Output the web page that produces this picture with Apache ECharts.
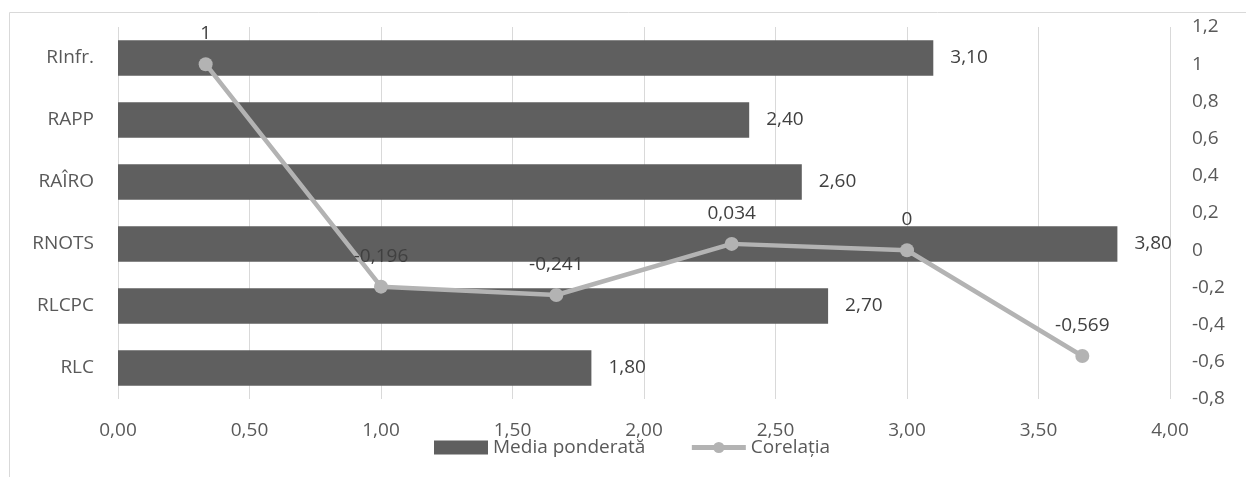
<!DOCTYPE html>
<html>
<head>
<meta charset="utf-8">
<script src="https://cdn.jsdelivr.net/npm/echarts@6/dist/echarts.min.js"></script>
<style>
  html, body { margin: 0; padding: 0; background: #fff; }
  #chart { width: 1246px; height: 477px; }
</style>
</head>
<body>
<div id="chart"></div>
<script>
// categories, bottom to top on the bar axis
var categories = ['RLC', 'RLCPC', 'RNOTS', 'RAÎRO', 'RAPP', 'RInfr.'];
var mediaPonderata = [1.80, 2.70, 3.80, 2.60, 2.40, 3.10];

// line series, left to right
var lineCategories = ['RInfr.', 'RAPP', 'RAÎRO', 'RNOTS', 'RLCPC', 'RLC'];
var corelatia = [1, -0.196, -0.241, 0.034, 0, -0.569];

var FONT = 'Open Sans';
var TXT = '#595959';

function comma(v) {
    return String(v).replace('.', ',');
}

(function () {
    var chart = echarts.init(document.getElementById('chart'));
    var option = {
        animation: false,
        textStyle: { fontFamily: FONT },
        grid: { left: 118, right: 76, top: 27, bottom: 78, containLabel: false },
        graphic: [{
            type: 'rect',
            shape: { x: 9.5, y: 12.5, width: 1260, height: 500 },
            style: { fill: 'none', stroke: '#d9d9d9', lineWidth: 1 },
            silent: true
        }],
        legend: {
            left: 429,
            top: 433,
            itemWidth: 54,
            itemHeight: 14,
            itemGap: 44,
            textStyle: { color: TXT, fontSize: 19, fontFamily: FONT },
            data: [
                { name: 'Media ponderată', icon: 'rect' },
                { name: 'Corelația', lineStyle: { width: 5 } }
            ]
        },
        xAxis: [{
            type: 'value',
            min: 0,
            max: 4,
            interval: 0.5,
            axisLine: { show: false },
            axisTick: { show: false },
            splitLine: { lineStyle: { color: '#d9d9d9', width: 1 } },
            axisLabel: {
                color: TXT, fontSize: 19, margin: 22,
                formatter: function (v) { return v.toFixed(2).replace('.', ','); }
            }
        }, {
            type: 'category',
            data: lineCategories,
            boundaryGap: true,
            show: false
        }],
        yAxis: [{
            type: 'category',
            data: categories,
            axisLine: { show: false },
            axisTick: { show: false },
            splitLine: { show: false },
            axisLabel: { color: TXT, fontSize: 19, margin: 24 }
        }, {
            type: 'value',
            position: 'right',
            min: -0.8,
            max: 1.2,
            interval: 0.2,
            axisLine: { show: false },
            axisTick: { show: false },
            splitLine: { show: false },
            axisLabel: {
                color: TXT, fontSize: 19, margin: 22,
                formatter: function (v) { return comma(+v.toFixed(1)); }
            }
        }],
        series: [{
            name: 'Media ponderată',
            type: 'bar',
            xAxisIndex: 0,
            yAxisIndex: 0,
            data: mediaPonderata,
            barCategoryGap: '43%',
            itemStyle: { color: '#5f5f5f' },
            label: {
                show: true,
                position: 'right',
                distance: 17,
                color: '#404040',
                fontSize: 19,
                fontFamily: FONT,
                formatter: function (p) { return p.value.toFixed(2).replace('.', ','); }
            }
        }, {
            name: 'Corelația',
            type: 'line',
            xAxisIndex: 1,
            yAxisIndex: 1,
            data: corelatia,
            symbol: 'circle',
            symbolSize: 14,
            z: 5,
            lineStyle: { color: '#b3b3b3', width: 4.5 },
            itemStyle: { color: '#b3b3b3' },
            label: {
                show: true,
                position: 'top',
                distance: 14,
                color: '#404040',
                fontSize: 19,
                fontFamily: FONT,
                formatter: function (p) { return comma(p.value); }
            }
        }]
    };
    chart.setOption(option);
})();
</script>
</body>
</html>
